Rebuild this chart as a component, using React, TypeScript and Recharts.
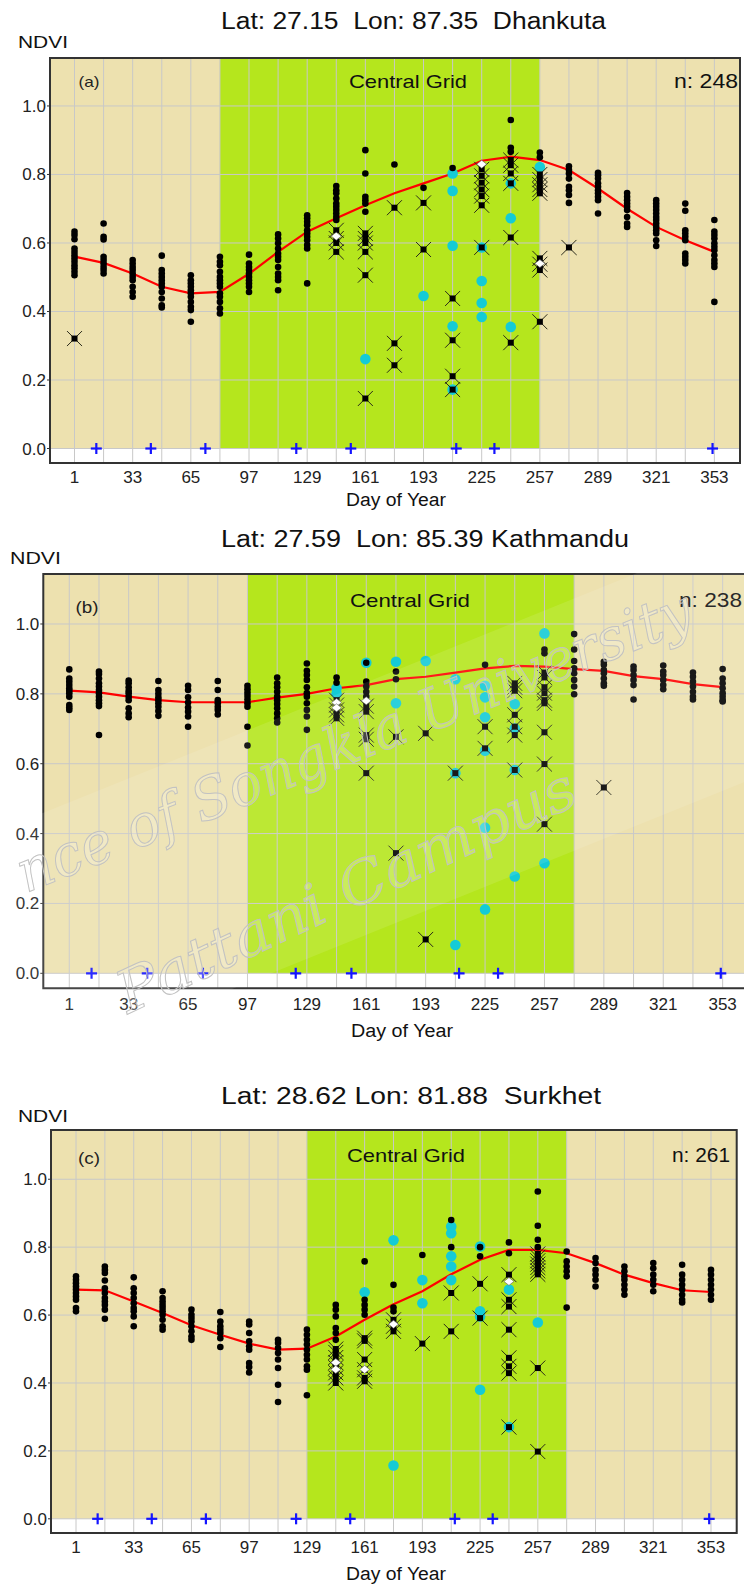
import React from "react";
import { ComposedChart, Scatter, Line, XAxis, YAxis, CartesianGrid, ReferenceArea } from "recharts";

type Column = [number, number[]];
type Pt = { day: number; v: number };

// 16-day composite days (also the vertical grid positions)
const DAYS = [1, 17, 33, 49, 65, 81, 97, 113, 129, 145, 161, 177, 193, 209, 225, 241, 257, 273, 289, 305, 321, 337, 353];
const LABEL_DAYS = [1, 33, 65, 97, 129, 161, 193, 225, 257, 289, 321, 353];
const NDVI_TICKS = [0, 0.2, 0.4, 0.6, 0.8, 1.0];
const MISSING_DAYS = [13, 43, 73, 123, 153, 211, 232, 352];

// ---------- (a) Dhankuta ----------
const aDots: Column[] = [
  [1, [0.633, 0.623, 0.611, 0.584, 0.574, 0.564, 0.555, 0.545, 0.535, 0.526, 0.516, 0.506]],
  [17, [0.657, 0.618, 0.61, 0.56, 0.55, 0.54, 0.53, 0.521, 0.511]],
  [33, [0.55, 0.54, 0.53, 0.521, 0.511, 0.501, 0.491, 0.472, 0.457, 0.443]],
  [49, [0.563, 0.521, 0.511, 0.501, 0.491, 0.482, 0.472, 0.457, 0.438, 0.418, 0.412]],
  [65, [0.506, 0.491, 0.482, 0.472, 0.462, 0.453, 0.443, 0.428, 0.414, 0.404, 0.37]],
  [81, [0.56, 0.545, 0.535, 0.516, 0.501, 0.491, 0.482, 0.472, 0.453, 0.443, 0.428, 0.409, 0.394]],
  [97, [0.566, 0.54, 0.53, 0.521, 0.511, 0.501, 0.491, 0.482, 0.472, 0.457]],
  [113, [0.625, 0.613, 0.599, 0.584, 0.569, 0.56, 0.55, 0.53, 0.511, 0.501, 0.491, 0.462]],
  [129, [0.681, 0.672, 0.662, 0.652, 0.637, 0.628, 0.618, 0.608, 0.594, 0.584, 0.482]],
  [145, [0.766, 0.754, 0.745, 0.73, 0.715, 0.706, 0.696, 0.686, 0.676, 0.667]],
  [161, [0.871, 0.803, 0.735, 0.725, 0.715, 0.691]],
  [177, [0.829]],
  [193, [0.761]],
  [209, [0.819]],
  [241, [0.959, 0.878, 0.866]],
  [257, [0.864, 0.85]],
  [273, [0.824, 0.813, 0.803, 0.788, 0.764, 0.754, 0.74, 0.717]],
  [289, [0.805, 0.798, 0.788, 0.774, 0.764, 0.754, 0.745, 0.735, 0.725, 0.686]],
  [305, [0.746, 0.735, 0.725, 0.715, 0.706, 0.696, 0.676, 0.657, 0.647]],
  [321, [0.725, 0.715, 0.706, 0.696, 0.686, 0.676, 0.667, 0.657, 0.647, 0.637, 0.628, 0.608, 0.591]],
  [337, [0.715, 0.694, 0.637, 0.628, 0.618, 0.608, 0.569, 0.56, 0.55, 0.54]],
  [353, [0.667, 0.633, 0.623, 0.613, 0.599, 0.589, 0.579, 0.564, 0.55, 0.54, 0.53, 0.428]],
];
const aCrosses: Column[] = [
  [1, [0.321]],
  [145, [0.637, 0.613, 0.6, 0.574]],
  [161, [0.628, 0.613, 0.6, 0.574, 0.506, 0.146]],
  [177, [0.703, 0.307, 0.243]],
  [193, [0.717, 0.581]],
  [209, [0.438, 0.316, 0.211, 0.172]],
  [225, [0.815, 0.796, 0.776, 0.756, 0.737, 0.71, 0.587]],
  [241, [0.842, 0.827, 0.803, 0.774, 0.616, 0.309]],
  [257, [0.8, 0.785, 0.77, 0.756, 0.745, 0.555, 0.538, 0.521, 0.37]],
  [273, [0.587]],
];
const aCyan: Column[] = [
  [161, [0.261]],
  [193, [0.445]],
  [209, [0.803, 0.752, 0.592, 0.357, 0.172]],
  [225, [0.587, 0.489, 0.425, 0.384]],
  [241, [0.774, 0.672, 0.355]],
  [257, [0.822]],
];
const aDiamonds: Column[] = [
  [145, [0.62]],
  [225, [0.83]],
  [257, [0.54]],
];
const aCurve = [0.56, 0.542, 0.511, 0.472, 0.453, 0.457, 0.51, 0.574, 0.633, 0.672, 0.71, 0.745, 0.774, 0.803, 0.84, 0.852, 0.842, 0.813, 0.759, 0.7, 0.647, 0.608, 0.574];

// ---------- (b) Kathmandu ----------
const bDots: Column[] = [
  [1, [0.87, 0.844, 0.835, 0.825, 0.816, 0.809, 0.802, 0.792, 0.768, 0.761, 0.754]],
  [17, [0.864, 0.857, 0.844, 0.83, 0.821, 0.811, 0.802, 0.792, 0.782, 0.773, 0.765, 0.682]],
  [33, [0.838, 0.83, 0.819, 0.809, 0.802, 0.792, 0.782, 0.759, 0.744, 0.733]],
  [49, [0.837, 0.811, 0.8, 0.79, 0.782, 0.773, 0.763, 0.751, 0.737]],
  [65, [0.823, 0.811, 0.79, 0.775, 0.761, 0.749, 0.735, 0.706]],
  [81, [0.837, 0.811, 0.782, 0.773, 0.763, 0.754, 0.741]],
  [97, [0.823, 0.813, 0.803, 0.794, 0.784, 0.773, 0.763, 0.706, 0.652]],
  [113, [0.847, 0.83, 0.819, 0.806, 0.792, 0.782, 0.771, 0.759, 0.744, 0.73, 0.718]],
  [129, [0.887, 0.866, 0.854, 0.84, 0.819, 0.802, 0.792, 0.773, 0.754, 0.735, 0.697]],
  [145, [0.847, 0.832]],
  [161, [0.889, 0.835, 0.821, 0.806, 0.792]],
  [177, [0.864, 0.842]],
  [225, [0.883]],
  [257, [0.927, 0.916]],
  [273, [0.971, 0.927, 0.894, 0.873, 0.859, 0.84, 0.821, 0.799]],
  [289, [0.892, 0.883, 0.868, 0.859, 0.844, 0.83, 0.823]],
  [305, [0.878, 0.868, 0.854, 0.84, 0.825, 0.784]],
  [321, [0.881, 0.864, 0.854, 0.84, 0.825, 0.813]],
  [337, [0.861, 0.849, 0.835, 0.821, 0.806, 0.792, 0.784]],
  [353, [0.871, 0.844, 0.83, 0.816, 0.802, 0.792, 0.782, 0.778]],
];
const bCrosses: Column[] = [
  [145, [0.782, 0.768, 0.754, 0.74, 0.73]],
  [161, [0.765, 0.749, 0.682, 0.67, 0.573]],
  [177, [0.677, 0.344]],
  [193, [0.687, 0.097]],
  [209, [0.573]],
  [225, [0.706, 0.644]],
  [241, [0.83, 0.819, 0.809, 0.74, 0.706, 0.682, 0.582]],
  [257, [0.861, 0.847, 0.819, 0.802, 0.782, 0.773, 0.69, 0.599, 0.427]],
  [289, [0.532]],
];
const bCyan: Column[] = [
  [145, [0.816, 0.8]],
  [161, [0.889]],
  [177, [0.892, 0.773]],
  [193, [0.894]],
  [209, [0.842, 0.573, 0.081]],
  [225, [0.823, 0.79, 0.733, 0.637, 0.417, 0.183]],
  [241, [0.771, 0.701, 0.582, 0.277]],
  [257, [0.973, 0.315]],
];
const bDiamonds: Column[] = [
  [145, [0.775, 0.76]],
  [161, [0.78]],
];
const bCurve = [0.809, 0.804, 0.792, 0.782, 0.776, 0.776, 0.776, 0.789, 0.8, 0.816, 0.825, 0.842, 0.849, 0.861, 0.873, 0.88, 0.878, 0.871, 0.866, 0.851, 0.842, 0.828, 0.819];

// ---------- (c) Surkhet ----------
const cDots: Column[] = [
  [1, [0.714, 0.704, 0.694, 0.684, 0.675, 0.665, 0.655, 0.645, 0.621, 0.611]],
  [17, [0.743, 0.733, 0.724, 0.702, 0.679, 0.665, 0.65, 0.64, 0.63, 0.616, 0.589]],
  [33, [0.711, 0.679, 0.665, 0.65, 0.635, 0.621, 0.611, 0.596, 0.567]],
  [49, [0.67, 0.65, 0.64, 0.63, 0.621, 0.611, 0.601, 0.586, 0.567, 0.557]],
  [65, [0.616, 0.601, 0.591, 0.581, 0.567, 0.552, 0.537, 0.527]],
  [81, [0.609, 0.581, 0.567, 0.557, 0.547, 0.532, 0.506]],
  [97, [0.581, 0.572, 0.547, 0.523, 0.508, 0.498, 0.459, 0.447, 0.431]],
  [113, [0.527, 0.518, 0.503, 0.488, 0.469, 0.444, 0.395, 0.344]],
  [129, [0.557, 0.542, 0.527, 0.513, 0.498, 0.483, 0.469, 0.449, 0.439, 0.364]],
  [145, [0.63, 0.616, 0.596, 0.562, 0.547, 0.527]],
  [161, [0.758, 0.645, 0.63, 0.616, 0.601]],
  [177, [0.689, 0.622, 0.611]],
  [193, [0.777]],
  [209, [0.88, 0.8]],
  [225, [0.8, 0.773]],
  [241, [0.814, 0.782]],
  [257, [0.964, 0.863, 0.822, 0.8]],
  [273, [0.787, 0.758, 0.743, 0.729, 0.714, 0.622]],
  [289, [0.768, 0.753, 0.733, 0.719, 0.704, 0.684]],
  [305, [0.743, 0.729, 0.714, 0.704, 0.689, 0.675, 0.66]],
  [321, [0.753, 0.738, 0.719, 0.704, 0.689, 0.67]],
  [337, [0.748, 0.719, 0.704, 0.689, 0.675, 0.66, 0.645, 0.637]],
  [353, [0.733, 0.719, 0.704, 0.689, 0.675, 0.66, 0.645]],
];
const cCrosses: Column[] = [
  [145, [0.5, 0.49, 0.475, 0.46, 0.445, 0.43, 0.415, 0.4]],
  [161, [0.532, 0.524, 0.469, 0.439, 0.415, 0.405]],
  [177, [0.586, 0.567, 0.552]],
  [193, [0.516]],
  [209, [0.665, 0.552]],
  [225, [0.692, 0.591]],
  [241, [0.719, 0.645, 0.625, 0.557, 0.474, 0.449, 0.429, 0.27]],
  [257, [0.78, 0.77, 0.76, 0.75, 0.74, 0.73, 0.72, 0.444, 0.198]],
];
const cCyan: Column[] = [
  [161, [0.667]],
  [177, [0.82, 0.157]],
  [193, [0.703, 0.635]],
  [209, [0.861, 0.841, 0.773, 0.743, 0.703]],
  [225, [0.802, 0.611, 0.596, 0.38]],
  [241, [0.675, 0.27]],
  [257, [0.578]],
];
const cDiamonds: Column[] = [
  [145, [0.46, 0.44]],
  [161, [0.44]],
  [177, [0.573]],
  [241, [0.699]],
];
const cCurve = [0.675, 0.673, 0.64, 0.606, 0.57, 0.542, 0.516, 0.498, 0.501, 0.537, 0.586, 0.632, 0.67, 0.72, 0.763, 0.792, 0.792, 0.782, 0.753, 0.719, 0.694, 0.673, 0.668];

// ---------- styling ----------
const FONT = "'Liberation Sans', Arial, sans-serif";
const TAN = "#EDE1AF";
const GREEN = "#B5E61D";
const CYAN = "#14CBD6";
const GRID = "#C8C8C8";
const CURVE_RED = "#FF0000";
const PLUS_BLUE = "#1414FF";

const toPoints = (cols: Column[]): Pt[] => cols.flatMap(([day, vs]) => vs.map((v) => ({ day, v })));
const toCurve = (vals: number[]): Pt[] => vals.map((v, i) => ({ day: DAYS[i], v }));
const toMissing = (days: number[]): Pt[] => days.map((day) => ({ day, v: 0 }));

const DotShape = (p: any) => <circle cx={p.cx} cy={p.cy} r={3.3} fill="#000" />;
const CyanShape = (p: any) => <circle cx={p.cx} cy={p.cy} r={5.3} fill={CYAN} />;
const CrossShape = (p: any) => (
  <g>
    <line x1={p.cx - 7.5} y1={p.cy - 7.5} x2={p.cx + 7.5} y2={p.cy + 7.5} stroke="#2a2a1a" strokeWidth={1} />
    <line x1={p.cx - 7.5} y1={p.cy + 7.5} x2={p.cx + 7.5} y2={p.cy - 7.5} stroke="#2a2a1a" strokeWidth={1} />
    <rect x={p.cx - 3} y={p.cy - 3} width={6} height={6} fill="#000" />
  </g>
);
const DiamondShape = (p: any) => (
  <polygon
    points={`${p.cx},${p.cy - 4} ${p.cx + 5},${p.cy} ${p.cx},${p.cy + 4} ${p.cx - 5},${p.cy}`}
    fill="#fff"
    stroke="#555"
    strokeWidth={0.6}
  />
);
const PlusShape = (p: any) => (
  <g stroke={PLUS_BLUE} strokeWidth={2.2}>
    <line x1={p.cx - 5.5} y1={p.cy} x2={p.cx + 5.5} y2={p.cy} />
    <line x1={p.cx} y1={p.cy - 5.5} x2={p.cx} y2={p.cy + 5.5} />
  </g>
);
const EmptyShape = () => <g />;

const YTick = (p: any) => (
  <text x={p.x} y={p.y} dy={6} textAnchor="end" fontSize={17} fill="#222" fontFamily={FONT}>
    {Number(p.payload.value).toFixed(1)}
  </text>
);
const makeXTick = (dy: number) => (p: any) =>
  LABEL_DAYS.includes(p.payload.value) ? (
    <text x={p.x} y={p.y} dy={dy} textAnchor="middle" fontSize={17} fill="#222" fontFamily={FONT}>
      {p.payload.value}
    </text>
  ) : (
    <g />
  );

type PanelSpec = {
  top: number;
  width: number;
  height: number;
  margin: { top: number; right: number; bottom: number; left: number };
  yAxisW: number;
  xDomain: [number, number];
  yDomain: [number, number];
  labelDy: number;
  green: [number, number];
  dots: Column[];
  crosses: Column[];
  cyan: Column[];
  diamonds: Column[];
  curve: number[];
};

const PANELS: PanelSpec[] = [
  {
    top: 0, width: 744, height: 500, margin: { top: 58, right: 4, bottom: 7, left: 0 }, yAxisW: 50,
    xDomain: [-12.48, 367.1], yDomain: [-0.0423, 1.14], labelDy: 20, green: [81, 257],
    dots: aDots, crosses: aCrosses, cyan: aCyan, diamonds: aDiamonds, curve: aCurve,
  },
  {
    top: 520, width: 760, height: 500, margin: { top: 54, right: 11, bottom: 1.7, left: 0 }, yAxisW: 43.3,
    xDomain: [-13.0, 367.2], yDomain: [-0.0429, 1.1431], labelDy: 22, green: [97, 273],
    dots: bDots, crosses: bCrosses, cyan: bCyan, diamonds: bDiamonds, curve: bCurve,
  },
  {
    top: 1080, width: 744, height: 500, margin: { top: 50, right: 7.3, bottom: 17, left: 0 }, yAxisW: 51,
    xDomain: [-12.86, 367.25], yDomain: [-0.0418, 1.145], labelDy: 20, green: [129, 273],
    dots: cDots, crosses: cCrosses, cyan: cCyan, diamonds: cDiamonds, curve: cCurve,
  },
];

function Axes({ spec, blank }: { spec: PanelSpec; blank: boolean }) {
  return (
    <>
      <XAxis
        type="number"
        dataKey="day"
        domain={spec.xDomain}
        ticks={DAYS}
        interval={0}
        allowDataOverflow
        height={30}
        tickSize={0}
        tickMargin={0}
        axisLine={false}
        tickLine={false}
        tick={blank ? false : makeXTick(spec.labelDy)}
      />
      <YAxis
        type="number"
        dataKey="v"
        domain={spec.yDomain}
        ticks={NDVI_TICKS}
        interval={0}
        allowDataOverflow
        width={spec.yAxisW}
        tickSize={blank ? 0 : 3}
        tickMargin={blank ? 0 : 1}
        axisLine={false}
        tickLine={blank ? false : { stroke: "#333" }}
        tick={blank ? false : YTick}
      />
    </>
  );
}

function Panel({ spec }: { spec: PanelSpec }) {
  const curve = toCurve(spec.curve);
  const [x0, x1] = spec.xDomain;
  const [y0, y1] = spec.yDomain;
  return (
    <>
      {/* season backgrounds */}
      <div style={{ position: "absolute", left: 0, top: spec.top }}>
        <ComposedChart width={spec.width} height={spec.height} margin={spec.margin}>
          {Axes({ spec, blank: true })}
          <ReferenceArea x1={x0} x2={x1} y1={0} y2={y1} fill={TAN} fillOpacity={1} stroke="none" />
          <ReferenceArea x1={spec.green[0]} x2={spec.green[1]} y1={0} y2={y1} fill={GREEN} fillOpacity={1} stroke="none" />
          <Scatter data={curve} shape={EmptyShape} isAnimationActive={false} />
        </ComposedChart>
      </div>
      {/* grid, axes and observations */}
      <div style={{ position: "absolute", left: 0, top: spec.top }}>
        <ComposedChart width={spec.width} height={spec.height} margin={spec.margin}>
          <CartesianGrid stroke={GRID} strokeWidth={1} />
          {Axes({ spec, blank: false })}
          <Scatter data={toPoints(spec.cyan)} shape={CyanShape} isAnimationActive={false} />
          <Scatter data={toPoints(spec.crosses)} shape={CrossShape} isAnimationActive={false} />
          <Scatter data={toPoints(spec.dots)} shape={DotShape} isAnimationActive={false} />
          <Scatter data={toPoints(spec.diamonds)} shape={DiamondShape} isAnimationActive={false} />
          <Line data={curve} dataKey="v" type="linear" stroke={CURVE_RED} strokeWidth={2.2} dot={false} activeDot={false} isAnimationActive={false} />
          <Scatter data={toMissing(MISSING_DAYS)} shape={PlusShape} isAnimationActive={false} />
          <ReferenceArea x1={x0} x2={x1} y1={y0} y2={y1} fill="none" stroke="#333" strokeWidth={2} ifOverflow="visible" />
        </ComposedChart>
      </div>
    </>
  );
}

const Label = ({ x, y, size, w, anchor = "start", color = "#111", children }: any) => (
  <text
    x={x}
    y={y}
    fontSize={size}
    fontFamily={FONT}
    fill={color}
    textAnchor={anchor}
    textLength={w}
    lengthAdjust="spacingAndGlyphs"
    style={{ whiteSpace: "pre" }}
  >
    {children}
  </text>
);

function Overlay() {
  return (
    <svg width={744} height={1586} style={{ position: "absolute", left: 0, top: 0, pointerEvents: "none" }}>
      {/* panel (a) */}
      <Label x={221} y={29} size={23} w={385}>Lat: 27.15  Lon: 87.35  Dhankuta</Label>
      <Label x={18} y={48} size={17} w={50}>NDVI</Label>
      <Label x={89} y={87} size={15} w={21} anchor="middle" color="#222">(a)</Label>
      <Label x={408} y={88} size={19} w={118} anchor="middle">Central Grid</Label>
      <Label x={738} y={88} size={20} w={64} anchor="end">n: 248</Label>
      <Label x={396} y={506} size={18} w={100} anchor="middle">Day of Year</Label>

      {/* panel (b) */}
      <Label x={221} y={547} size={23} w={408}>Lat: 27.59  Lon: 85.39 Kathmandu</Label>
      <Label x={10} y={564} size={17} w={51}>NDVI</Label>
      <Label x={87} y={613} size={16} w={23} anchor="middle" color="#222">(b)</Label>
      <Label x={410} y={607} size={19} w={120} anchor="middle">Central Grid</Label>
      <Label x={742} y={607} size={20} w={63} anchor="end">n: 238</Label>
      <Label x={402} y={1037} size={18} w={102} anchor="middle">Day of Year</Label>

      {/* panel (c) */}
      <Label x={221} y={1104} size={23} w={380}>Lat: 28.62 Lon: 81.88  Surkhet</Label>
      <Label x={18} y={1122} size={17} w={50}>NDVI</Label>
      <Label x={89} y={1164} size={16} w={22} anchor="middle" color="#222">(c)</Label>
      <Label x={406} y={1162} size={19} w={118} anchor="middle">Central Grid</Label>
      <Label x={730} y={1162} size={20} w={58} anchor="end">n: 261</Label>
      <Label x={396} y={1580} size={18} w={100} anchor="middle">Day of Year</Label>

      {/* repository watermark across panel (b) */}
      <g transform="translate(43,813) rotate(-22)">
        <rect x={-200} y={0} width={1200} height={234} fill="#fff" opacity={0.1} />
      </g>
      <g fill="#fff" fillOpacity={0.2} stroke="#c2c2c2" strokeWidth={1} fontFamily="'DejaVu Serif', serif" fontStyle="italic">
        <text transform="translate(26,893) rotate(-21.7)" fontSize={58} textLength={722} lengthAdjust="spacingAndGlyphs">
          nce of Songkla University
        </text>
        <text transform="translate(128,1014) rotate(-25)" fontSize={58} textLength={500} lengthAdjust="spacingAndGlyphs">
          Pattani Campus
        </text>
      </g>
    </svg>
  );
}

export default function App() {
  return (
    <div style={{ position: "absolute", left: 0, top: 0, width: 744, height: 1586, overflow: "hidden", background: "#fff" }}>
      {PANELS.map((spec, i) => (
        <Panel key={i} spec={spec} />
      ))}
      <Overlay />
    </div>
  );
}
